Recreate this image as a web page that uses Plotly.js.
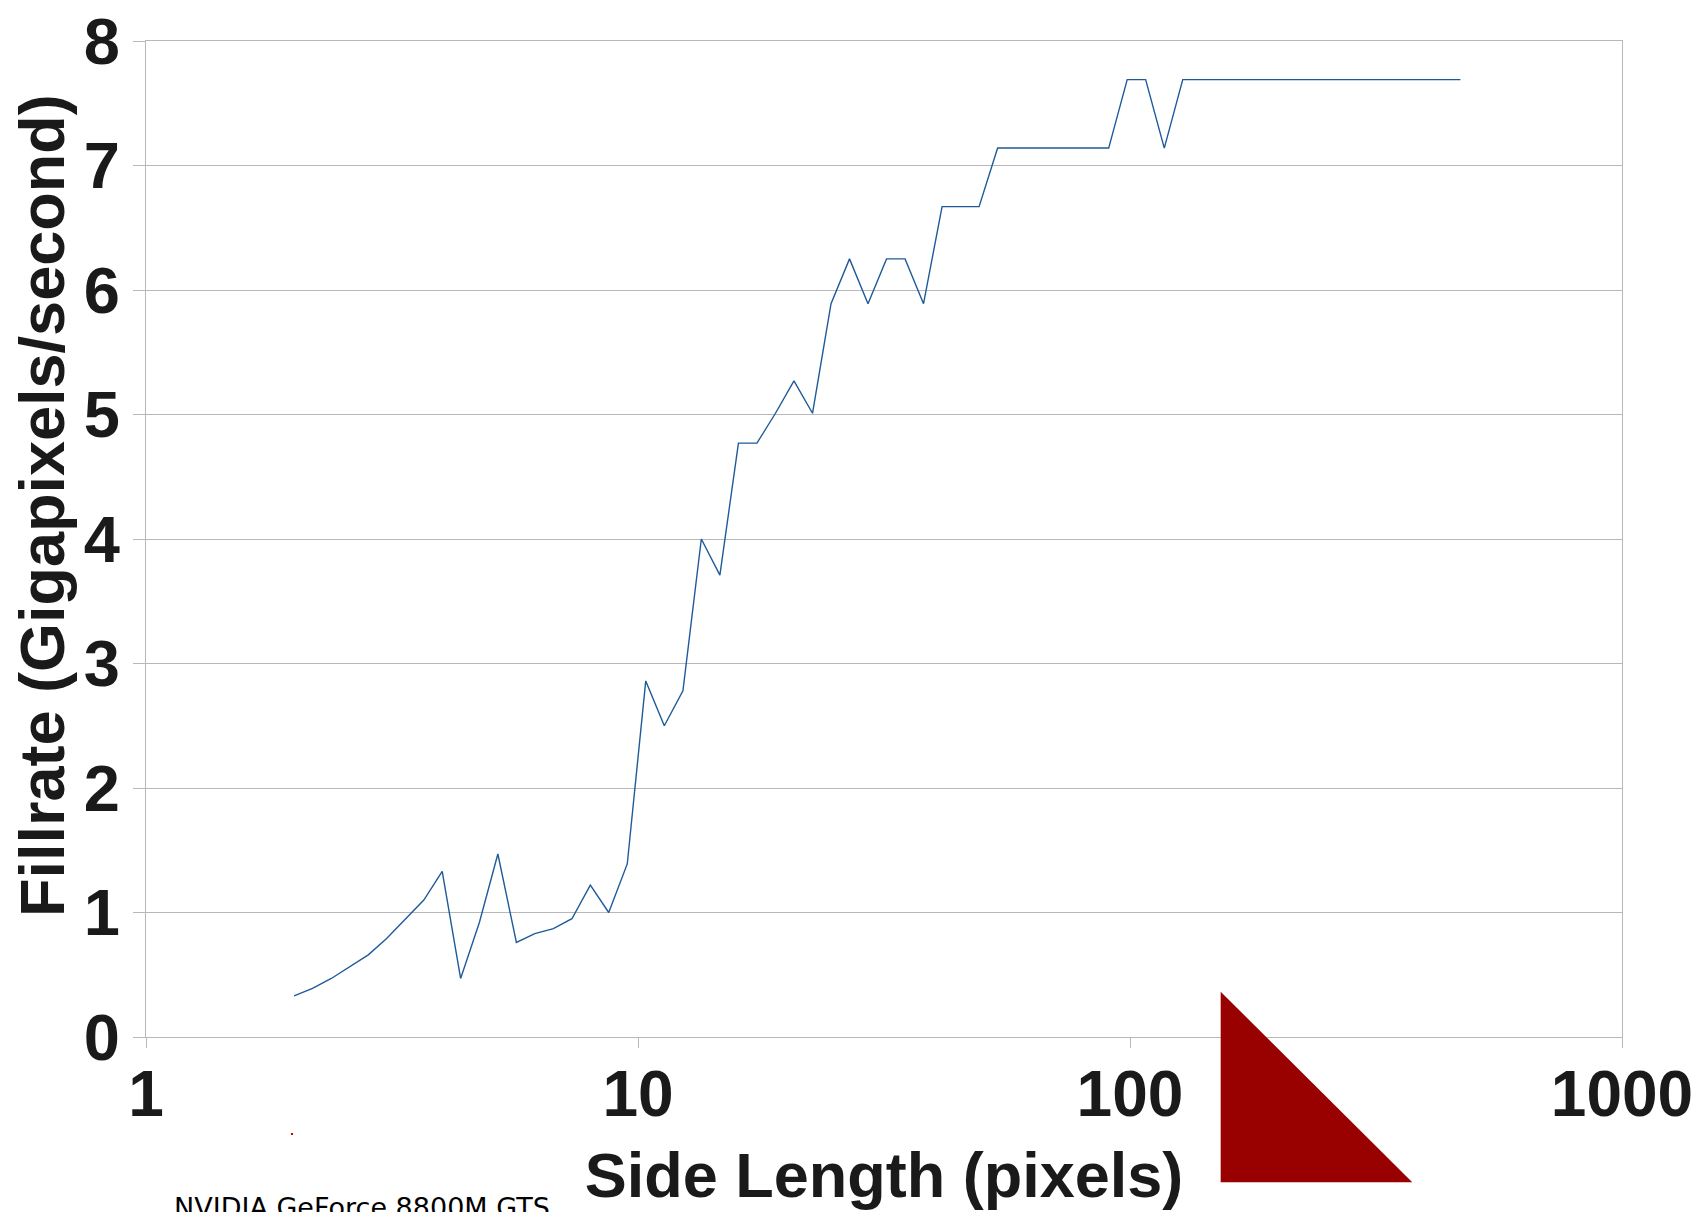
<!DOCTYPE html>
<html>
<head>
<meta charset="utf-8">
<script src="https://cdn.plot.ly/plotly-3.0.1.min.js"></script>
<style>
  html, body { margin: 0; padding: 0; background: #ffffff; }
  #chart { width: 1695px; height: 1212px; }
</style>
</head>
<body>
<div id="chart"></div>
<script>
// Side length (pixels) of the rendered square
const sideLength = [2, 2.18, 2.38, 2.59, 2.83, 3.08, 3.36, 3.67, 4, 4.36, 4.76, 5.19, 5.66, 6.17, 6.73, 7.34, 8, 8.72, 9.51,
  10.37, 11.31, 12.34, 13.45, 14.67,
  16, 17.45, 19.03, 20.75, 22.63,
  24.68, 26.91, 29.34, 32, 34.9, 38.05,
  41.5, 45.25, 49.35,
  53.82,
  58.69, 64, 69.79, 76.11, 83, 90.51,
  98.7, 107.6, 117.4,
  128, 139.6, 152.2, 166, 181, 197.4, 215.3, 234.8, 256, 279.2, 304.4, 332, 362, 394.8, 430.5, 469.5];

// Fillrate (Gigapixels/second)
const fillrate = [0.33, 0.39, 0.47, 0.56, 0.66, 0.79, 0.94, 1.10, 1.33, 0.47, 0.92, 1.47, 0.76, 0.83, 0.87, 0.95, 1.22, 1.00, 1.39,
  2.86, 2.50, 2.78, 4.00, 3.71,
  4.77, 4.77, 5.01, 5.27, 5.01,
  5.89, 6.25, 5.89, 6.25, 6.25, 5.89,
  6.67, 6.67, 6.67,
  7.14,
  7.14, 7.14, 7.14, 7.14, 7.14, 7.14,
  7.69, 7.69, 7.14,
  7.69, 7.69, 7.69, 7.69, 7.69, 7.69, 7.69, 7.69, 7.69, 7.69, 7.69, 7.69, 7.69, 7.69, 7.69, 7.69];

const xTickVals = [1, 10, 100, 1000];
const xTickText = ['1', '10', '100', '1000'];
const yTickVals = [0, 1, 2, 3, 4, 5, 6, 7, 8];

const xTitle = 'Side Length (pixels)';
const yTitle = 'Fillrate (Gigapixels/second)';
const footnote = 'NVIDIA GeForce 8800M GTS';

const boldFont = { family: 'Liberation Sans, Arial, sans-serif', weight: 'bold', color: '#1a1a1a' };
const gridColor = '#b8b8b8';

const trace = {
  x: sideLength,
  y: fillrate,
  type: 'scatter',
  mode: 'lines',
  line: { color: '#1f5a99', width: 1.4 },
  hoverinfo: 'x+y'
};

const layout = {
  width: 1695,
  height: 1212,
  margin: { l: 146, r: 73, t: 41, b: 175 },
  paper_bgcolor: '#ffffff',
  plot_bgcolor: '#ffffff',
  showlegend: false,
  xaxis: {
    type: 'log',
    range: [0, 3],
    tickvals: xTickVals,
    ticktext: xTickText,
    showgrid: false,
    zeroline: false,
    showline: true,
    linecolor: gridColor,
    linewidth: 1,
    mirror: true,
    ticks: 'outside',
    ticklen: 10,
    tickcolor: gridColor,
    ticklabelstandoff: -9,
    tickfont: Object.assign({ size: 64 }, boldFont),
    title: { text: xTitle, font: Object.assign({ size: 63 }, boldFont), standoff: 24 }
  },
  yaxis: {
    range: [0, 8],
    tickvals: yTickVals,
    showgrid: true,
    gridcolor: gridColor,
    gridwidth: 1,
    zeroline: false,
    showline: true,
    linecolor: gridColor,
    linewidth: 1,
    mirror: true,
    ticks: 'outside',
    ticklen: 12,
    tickcolor: gridColor,
    tickfont: Object.assign({ size: 65 }, boldFont)
  },
  annotations: [
    {
      text: yTitle,
      xref: 'paper', yref: 'paper',
      x: -0.0705, y: 0.534,
      xanchor: 'center', yanchor: 'middle',
      textangle: -90,
      showarrow: false,
      font: Object.assign({ size: 63 }, boldFont)
    },
    {
      text: footnote,
      xref: 'paper', yref: 'paper',
      x: 0.0176, y: -0.1536,
      xanchor: 'left', yanchor: 'top',
      showarrow: false,
      font: { family: 'DejaVu Sans, sans-serif', size: 27, color: '#000000' }
    }
  ],
  shapes: [
    {
      type: 'path',
      xref: 'paper', yref: 'paper',
      path: 'M 0.7281 0.0455 L 0.7281 -0.1459 L 0.8579 -0.1459 Z',
      fillcolor: '#990000',
      line: { width: 0 },
      layer: 'above'
    },
    {
      type: 'rect',
      xref: 'paper', yref: 'paper',
      x0: 0.0982, x1: 0.0996, y0: -0.0964, y1: -0.0984,
      fillcolor: '#cc0000',
      line: { width: 0 }
    }
  ]
};

Plotly.newPlot('chart', [trace], layout, { displayModeBar: false, staticPlot: true });
</script>
</body>
</html>
